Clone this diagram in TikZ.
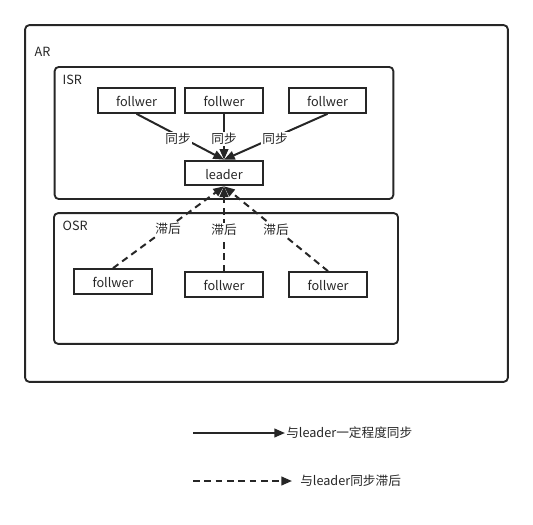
\documentclass[tikz,border=0pt]{standalone}
\usepackage{fontspec}
\setmainfont{Noto Sans CJK SC}
\usetikzlibrary{arrows.meta}
\begin{document}
\begin{tikzpicture}[x=0.75pt,y=-0.75pt,
  every node/.style={font=\fontsize{9.5}{11}\selectfont, text=black!85},
  container/.style={draw=black!85, line width=1.4pt, rounded corners=3pt, inner sep=0pt},
  box/.style={draw=black!85, line width=1.5pt, minimum width=58pt, minimum height=18.5pt, inner sep=0pt, text height=9pt, text depth=0pt},
  lbl/.style={fill=white, inner sep=1pt},
  tip/.style={-{Triangle[length=8pt,width=6.5pt]}},
  sync/.style={tip, draw=black!85, line width=1.5pt},
  lag/.style={tip, draw=black!85, line width=1.5pt, dash pattern=on 5pt off 3.5pt},
]
\useasboundingbox (0,0) rectangle (533,525);
% containers
\node[container, minimum width=362pt, minimum height=267.5pt] (ar) at (266.5,203.5) {};
\node[anchor=west] (arl) at (30,52) {AR};
\node[container, minimum width=254pt, minimum height=99pt] (isr) at (224,133) {};
\node[anchor=west] (isrl) at (58,80) {ISR};
\node[container, minimum width=258pt, minimum height=98pt] (osr) at (226,278.5) {};
\node[anchor=west] (osrl) at (58,226) {OSR};
% ISR nodes
\node[box] (f1) at (136.5,100.5) {follwer};
\node[box] (f2) at (224,100.5) {follwer};
\node[box] (f3) at (327.5,100.5) {follwer};
\node[box] (ld) at (224,173) {leader};
% OSR nodes
\node[box] (o1) at (113,281.5) {follwer};
\node[box] (o2) at (224,284.5) {follwer};
\node[box] (o3) at (328,284.5) {follwer};
% connectors
\draw[sync] (f1.south) -- (ld.north);
\draw[sync] (f2.south) -- (ld.north);
\draw[sync] (f3.south) -- (ld.north);
\draw[lag] (o1.north) -- (ld.south);
\draw[lag] (o2.north) -- (ld.south);
\draw[lag] (o3.north) -- (ld.south);
% labels
\node[lbl] (s1) at (178,139) {同步};
\node[lbl] (s2) at (224,139) {同步};
\node[lbl] (s3) at (275,139) {同步};
\node[lbl] (l1) at (168,229) {滞后};
\node[lbl] (l2) at (224,230) {滞后};
\node[lbl] (l3) at (276,230) {滞后};
% legend
\coordinate (a1) at (193,433);
\coordinate (a2) at (285,433);
\draw[sync] (a1) -- (a2);
\node[anchor=west, inner sep=0pt] (t1) at (286,433) {与leader一定程度同步};
\coordinate (b1) at (193,481);
\coordinate (b2) at (292,481);
\draw[lag] (b1) -- (b2);
\node[anchor=west, inner sep=0pt] (t2) at (300,481) {与leader同步滞后};
\end{tikzpicture}
\end{document}
